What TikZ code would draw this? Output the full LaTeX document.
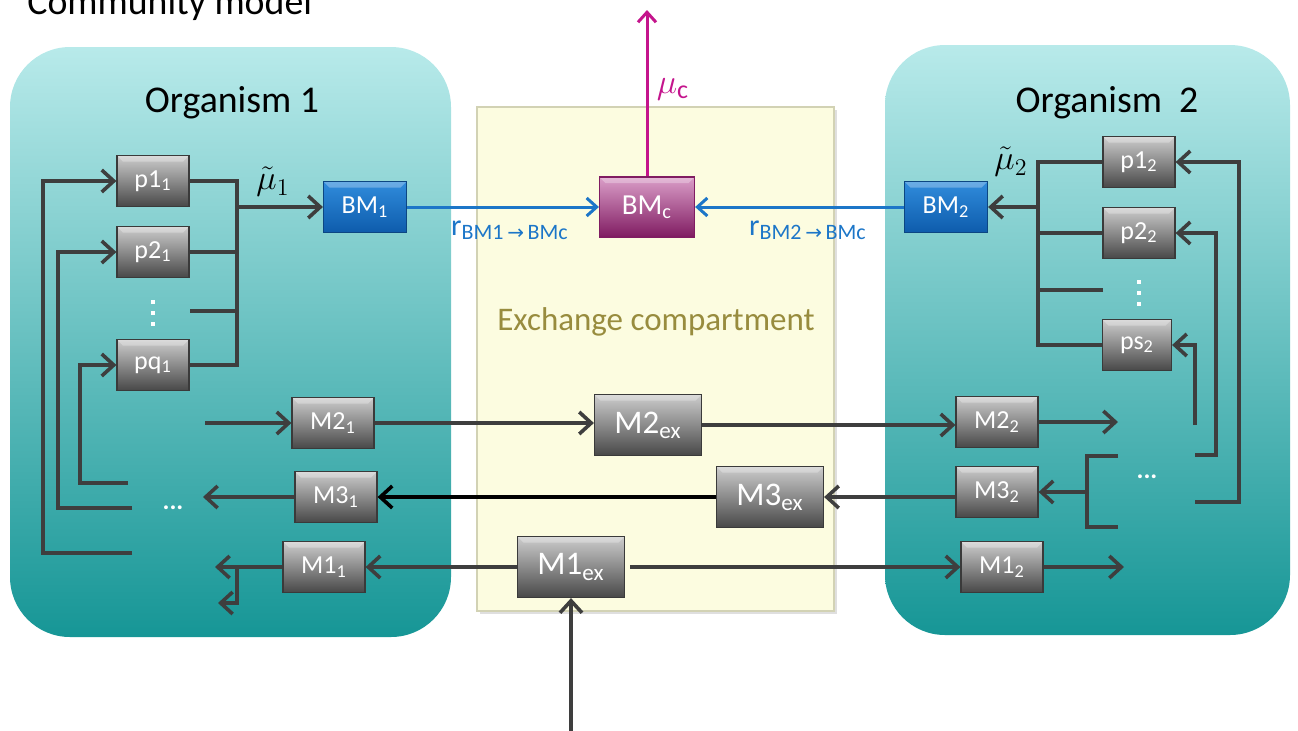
\documentclass[tikz,border=0pt]{standalone}
\usepackage{fontspec}
\setmainfont{Carlito}
\newfontfamily\arrowfont{DejaVu Sans}
\usetikzlibrary{arrows.meta,calc}

\definecolor{orgtop}{RGB}{184,234,234}
\definecolor{orgbot}{RGB}{22,150,150}
\definecolor{exfill}{RGB}{252,252,224}
\definecolor{exedge}{RGB}{210,210,180}
\definecolor{exlabel}{RGB}{152,140,62}
\definecolor{linegray}{RGB}{62,62,62}
\definecolor{bmblue}{RGB}{28,118,200}
\definecolor{bmtop}{RGB}{48,140,220}
\definecolor{bmbot}{RGB}{14,92,172}
\definecolor{bmedge}{RGB}{12,70,130}
\definecolor{mag}{RGB}{196,20,140}
\definecolor{bmctop}{RGB}{218,158,200}
\definecolor{bmcbot}{RGB}{128,28,98}
\definecolor{gtop}{RGB}{205,205,205}
\definecolor{gbot}{RGB}{72,72,72}
\definecolor{gedge}{RGB}{58,58,58}

\newcommand{\rlabel}[1]{r\textsubscript{\fontsize{11}{13}\selectfont BM#1\,{\arrowfont\fontsize{10}{11}\selectfont →}\,BMc}}

\tikzset{
  bevel/.style={path picture={
    \fill[white,opacity=0.28] (path picture bounding box.north west) -- (path picture bounding box.north east)
      -- ([xshift=-3pt,yshift=-3pt]path picture bounding box.north east)
      -- ([xshift=3pt,yshift=-3pt]path picture bounding box.north west) -- cycle;}},
  gbox/.style={rectangle, inner sep=0pt, top color=gtop, bottom color=gbot, draw=gedge, line width=0.6pt,
    text=white, font=\fontsize{13}{15}\selectfont, minimum width=#1, minimum height=25.5pt, bevel},
  gbox/.default=41pt,
  exbox/.style={gbox=53.5pt, minimum height=30.5pt, font=\fontsize{16.5}{19}\selectfont},
  bmbox/.style={rectangle, inner sep=0pt, top color=bmtop, bottom color=bmbot, draw=bmedge, line width=0.6pt,
    text=white, font=\fontsize{13}{15}\selectfont, minimum width=41.5pt, minimum height=25.5pt, bevel},
  bmcbox/.style={rectangle, inner sep=0pt, top color=bmctop, bottom color=bmcbot, draw=bmcbot, line width=0.6pt,
    text=white, font=\fontsize{14.5}{17}\selectfont, minimum width=47.5pt, minimum height=30pt, bevel},
  ln/.style={draw=linegray, line width=1.8pt},
  ar/.style={ln, -{Straight Barb[length=6pt,width=11pt]}},
  blu/.style={draw=bmblue, line width=1.5pt, -{Straight Barb[length=5pt,width=9pt]}},
  heading/.style={font=\fontsize{18.9}{22}\selectfont, text=black, inner sep=0pt},
  dotsw/.style={text=white, font=\fontsize{13}{15}\bfseries, inner sep=0pt},
  growth/.style={font=\fontsize{18.5}{21}\selectfont, inner sep=0pt},
}

\begin{document}
\begin{tikzpicture}[x=0.5pt, y=-0.5pt]
  \useasboundingbox (0,0) rectangle (1298,730);

  % compartments
  \shade[top color=orgtop, bottom color=orgbot, rounded corners=30pt] (10,47) rectangle (451,637);
  \shade[top color=orgtop, bottom color=orgbot, rounded corners=30pt] (885,45) rectangle (1290,635);
  \fill[gray!25] (480,110) rectangle (837,614);
  \draw[fill=exfill, draw=exedge, line width=0.6pt] (477,107) rectangle (834,611);

  % titles
  \node[heading, anchor=base west] (title) at (27,14) {Community model};
  \node[heading, anchor=base] (org1) at (232,112) {Organism 1};
  \node[heading, anchor=base] (org2) at (1107,112) {Organism\ \ 2};
  \node[font=\fontsize{16.5}{19}\selectfont, text=exlabel, anchor=base] (exch) at (656,330) {Exchange compartment};

  % organism 1 boxes
  \node[gbox=36pt] (p11) at (153,181) {p1\textsubscript{1}};
  \node[gbox=36pt] (p21) at (153,252) {p2\textsubscript{1}};
  \node[gbox=36pt] (pq1) at (153,365) {pq\textsubscript{1}};
  \node[bmbox] (BM1) at (365,207) {BM\textsubscript{1}};
  \node[gbox] (M21) at (333,423) {M2\textsubscript{1}};
  \node[gbox] (M31) at (336,497) {M3\textsubscript{1}};
  \node[gbox] (M11) at (324,567) {M1\textsubscript{1}};

  % exchange compartment boxes
  \node[bmcbox] (BMc) at (647,207) {BM\textsubscript{c}};
  \node[exbox] (M2ex) at (648,425) {M2\textsubscript{ex}};
  \node[exbox] (M3ex) at (770,497) {M3\textsubscript{ex}};
  \node[exbox] (M1ex) at (571,567) {M1\textsubscript{ex}};

  % organism 2 boxes
  \node[gbox=36pt] (p12) at (1139,162) {p1\textsubscript{2}};
  \node[gbox=36pt] (p22) at (1139,233) {p2\textsubscript{2}};
  \node[gbox=34.5pt] (ps2) at (1137,345) {ps\textsubscript{2}};
  \node[bmbox] (BM2) at (946,207) {BM\textsubscript{2}};
  \node[gbox] (M22) at (997,422) {M2\textsubscript{2}};
  \node[gbox] (M32) at (997,492) {M3\textsubscript{2}};
  \node[gbox] (M12) at (1002,567) {M1\textsubscript{2}};

  % vertical ellipses
  \foreach \yy in {300,311,322} \fill[white] (151,\yy) rectangle (155,\yy+4);
  \foreach \yy in {280,291,302} \fill[white] (1137,\yy) rectangle (1141,\yy+4);
  \node[dotsw] (dots1) at (173,508) {...};
  \node[dotsw] (dots2) at (1147,477) {...};

  % free ends and bends, organism 1
  \coordinate (f1) at (132,553); \coordinate (b1) at (43,181);
  \coordinate (f2) at (132,508); \coordinate (b2) at (58,252);
  \coordinate (f3) at (128,483); \coordinate (b3) at (80,365);
  \coordinate (c1t) at (237,181); \coordinate (c1b) at (237,365);
  \coordinate (d1) at (190,311);  \coordinate (j1) at (237,207);
  \coordinate (f4) at (205,423);
  \coordinate (f5) at (203,497);
  \coordinate (f6) at (215,567);  \coordinate (j6) at (237,567); \coordinate (f7) at (218,603);

  % organism 1 connectors
  \draw[ar] (f1) -| (b1) -- (p11.west);
  \draw[ar] (f2) -| (b2) -- (p21.west);
  \draw[ar] (f3) -| (b3) -- (pq1.west);
  \draw[ln] (p11.east) -- (c1t) -- (c1b) -- (pq1.east);
  \draw[ln] (p21.east) -- (p21.east -| c1t);
  \draw[ln] (d1) -- (d1 -| c1t);
  \draw[ar] (j1) -- (BM1.west);
  \node[growth] (mu1) at (273,182) {$\tilde{\mu}_1$};
  \draw[ar] (f4) -- (M21.west);
  \draw[ar] (M31.west) -- (f5);
  \draw[ar] (M11.west) -- (f6);
  \draw[ar] (j6) |- (f7);

  % exchange connectors
  \draw[ar] (M21.east) -- (M21.east -| M2ex.west);
  \draw[ar] (M2ex.east) -- (M2ex.east -| M22.west);
  \draw[ar, draw=black] (M3ex.west) -- (M31.east);
  \draw[ar] (M32.west |- M3ex.east) -- (M3ex.east);
  \draw[ar] (M1ex.west) -- (M11.east);
  \draw[ar, shorten <=2.5pt] (M1ex.east) -- (M12.west);
  \coordinate (bot) at (571,735);
  \draw[ar] (bot) -- (M1ex.south);

  % biomass connectors
  \coordinate (top) at (647,10);
  \draw[draw=mag, line width=1.5pt, -{Straight Barb[length=5pt,width=9pt]}] (BMc.north) -- (top);
  \node[growth, text=mag] (muc) at (673,89) {$\mu$\textsubscript{\fontsize{13}{15}\selectfont c}};
  \draw[blu] (BM1.east) -- (BMc.west);
  \draw[blu] (BM2.west) -- (BMc.east);
  \node[text=bmblue, font=\fontsize{15}{17}\selectfont, inner sep=0pt] (r1) at (510,230) {\rlabel{1}};
  \node[text=bmblue, font=\fontsize{15}{17}\selectfont, inner sep=0pt] (r2) at (808,230) {\rlabel{2}};

  % free ends and bends, organism 2
  \coordinate (c2t) at (1038,162); \coordinate (c2b) at (1038,345);
  \coordinate (d2) at (1103,290);  \coordinate (j2) at (1038,207);
  \coordinate (g1) at (1195,502); \coordinate (h1) at (1239,162);
  \coordinate (g2) at (1195,455); \coordinate (h2) at (1216,233);
  \coordinate (g3) at (1195,425); \coordinate (h3) at (1195,345);
  \coordinate (e1) at (1118,422);
  \coordinate (k1) at (1118,456); \coordinate (k2) at (1118,527);
  \coordinate (kt) at (1087,456); \coordinate (kb) at (1087,527); \coordinate (km) at (1087,492);
  \coordinate (e3) at (1124,567);

  % organism 2 connectors
  \draw[ln] (p12.west) -- (c2t) -- (c2b) -- (ps2.west);
  \draw[ln] (p22.west) -- (p22.west -| c2t);
  \draw[ln] (d2) -- (d2 -| c2t);
  \draw[ar] (j2) -- (BM2.east);
  \node[growth] (mu2) at (1011,162) {$\tilde{\mu}_2$};
  \draw[ar] (g1) -| (h1) -- (p12.east);
  \draw[ar] (g2) -| (h2) -- (p22.east);
  \draw[ar] (g3) -- (h3) -- (ps2.east);
  \draw[ar] (M22.east) -- (e1);
  \draw[ln] (k1) -- (kt) -- (kb) -- (k2);
  \draw[ar] (km) -- (M32.east);
  \draw[ar] (M12.east) -- (e3);
\end{tikzpicture}
\end{document}
